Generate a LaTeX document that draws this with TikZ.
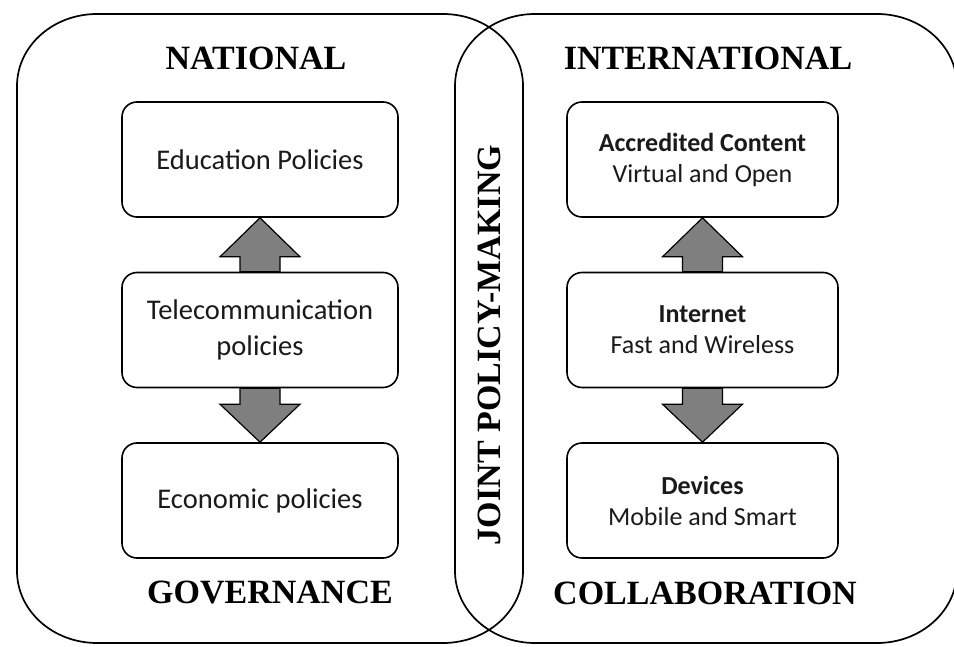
\documentclass[tikz,border=0pt]{standalone}
\usepackage{fontspec}
\setmainfont{Liberation Serif}
\newfontfamily\calibri{Carlito}
\usetikzlibrary{calc}
\definecolor{arrowgray}{HTML}{7F7F7F}
\definecolor{boxtext}{HTML}{1A1A1A}
\begin{document}
\begin{tikzpicture}[x=1pt,y=1pt,
  outer/.style={line width=1.7pt},
  pbox/.style={draw, line width=1.6pt, rounded corners=15pt, minimum width=276pt,
    minimum height=115pt, fill=white, align=center, text=boxtext,
    font=\calibri\fontsize{28.5}{36}\selectfont, inner sep=0pt},
  rbox/.style={pbox, minimum width=271pt, font=\calibri\fontsize{26}{31}\selectfont},
  title/.style={font=\bfseries\fontsize{34}{40}\selectfont, inner sep=0pt},
  bigarrow/.style={draw, fill=arrowgray, line width=1.2pt, line join=miter}]
\useasboundingbox (0,0) rectangle (954,646);
\fill[white] (0,0) rectangle (954,646);
\clip (0,0) rectangle (954,646);

% two overlapping outer shapes
\draw[outer] (97,632) -- (443,632) arc[start angle=90,end angle=0,x radius=80,y radius=72]
  -- (523,75) arc[start angle=0,end angle=-90,x radius=80,y radius=72]
  -- (97,3) arc[start angle=270,end angle=180,x radius=80,y radius=72]
  -- (17,560) arc[start angle=180,end angle=90,x radius=80,y radius=72] -- cycle;
\draw[outer] (535,632) -- (877,632) arc[start angle=90,end angle=0,x radius=80,y radius=72]
  -- (957,75) arc[start angle=0,end angle=-90,x radius=80,y radius=72]
  -- (535,3) arc[start angle=270,end angle=180,x radius=80,y radius=72]
  -- (455,560) arc[start angle=180,end angle=90,x radius=80,y radius=72] -- cycle;

% titles
\node[title] (national) at (256,588) {NATIONAL};
\node[title] (international) at (708,588) {INTERNATIONAL};
\node[title] (governance) at (270,53) {GOVERNANCE};
\node[title] (collab) at (705,53) {COLLABORATION};
\node[title, rotate=90] (joint) at (489,301) {JOINT POLICY-MAKING};

% boxes
\node[pbox] (edu) at (260,486.5) {Education Policies};
\node[pbox] (tel) at (260,316) {Telecommunication\\policies};
\node[pbox] (eco) at (260,145.5) {Economic policies};
\node[rbox] (acc) at (702.5,486.5) {\textbf{Accredited Content}\\Virtual and Open};
\node[rbox] (net) at (702.5,316) {\textbf{Internet}\\Fast and Wireless};
\node[rbox] (dev) at (702.5,145.5) {\textbf{Devices}\\Mobile and Smart};

% block arrows
\draw[bigarrow] (edu.south) -- ++(40,-39) -- ++(-20,0) -- ($(tel.north)+(20,0)$)
  -- ($(tel.north)+(-20,0)$) -- ($(edu.south)+(-20,-39)$) -- ++(-20,0) -- cycle;
\draw[bigarrow] ($(tel.south)+(-20,0)$) -- ($(tel.south)+(20,0)$) -- ($(eco.north)+(20,38)$)
  -- ++(20,0) -- (eco.north) -- ($(eco.north)+(-40,38)$) -- ++(20,0) -- cycle;
\draw[bigarrow] (acc.south) -- ++(40,-39) -- ++(-20,0) -- ($(net.north)+(20,0)$)
  -- ($(net.north)+(-20,0)$) -- ($(acc.south)+(-20,-39)$) -- ++(-20,0) -- cycle;
\draw[bigarrow] ($(net.south)+(-20,0)$) -- ($(net.south)+(20,0)$) -- ($(dev.north)+(20,38)$)
  -- ++(20,0) -- (dev.north) -- ($(dev.north)+(-40,38)$) -- ++(20,0) -- cycle;
\end{tikzpicture}
\end{document}
